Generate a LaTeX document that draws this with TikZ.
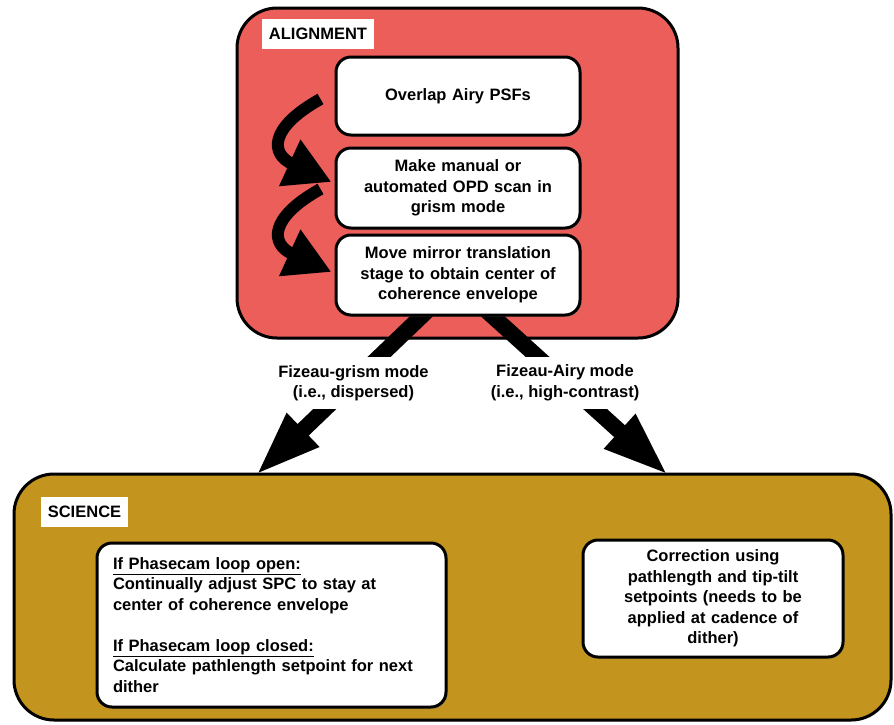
\documentclass[tikz,border=0pt]{standalone}
\usepackage{fontspec}
\setmainfont{Liberation Sans}
\usetikzlibrary{arrows.meta,shadows,calc}
\definecolor{alignred}{RGB}{236,94,89}
\definecolor{scigold}{RGB}{195,149,30}
\pgfdeclarelayer{containers}
\pgfdeclarelayer{arrowlayer}
\pgfsetlayers{containers,arrowlayer,main}
\begin{document}
\begin{tikzpicture}[x=1pt,y=-1pt,
  txt/.style={font=\fontsize{16.5}{20.5}\selectfont\bfseries},
  container/.style={draw=black, line width=3pt, rounded corners=40pt, inner sep=0pt,
    drop shadow={shadow xshift=1pt, shadow yshift=-1.5pt, opacity=0.3}},
  stepbox/.style={draw=black, fill=white, line width=3pt, rounded corners=15pt, txt,
    inner sep=0pt, drop shadow={shadow xshift=1.5pt, shadow yshift=-2pt, opacity=0.35}},
  tag/.style={fill=white, txt, inner sep=0pt},
  bigarrow/.style={line width=16pt, -{Triangle[length=66pt,width=42pt]}},
  curlarrow/.style={line width=12pt, -{Triangle[length=46pt,width=48pt]}},
  modelabel/.style={fill=white, txt, align=center, inner xsep=4pt, inner ysep=8pt}]

\useasboundingbox (0,0) rectangle (894,724);

% containers
\begin{pgfonlayer}{containers}
\node[container, fill=alignred, minimum width=441pt, minimum height=330pt] (align) at (457.5,173) {};
\node[container, fill=scigold, minimum width=877pt, minimum height=246pt] (science) at (452.5,597) {};
\end{pgfonlayer}

% tags
\node[tag, minimum width=112pt, minimum height=30pt] (aligntag) at (318,34) {ALIGNMENT};
\node[tag, minimum width=87pt, minimum height=30pt] (scitag) at (84.5,512) {SCIENCE};

% alignment steps
\node[stepbox, align=center, text width=224pt, minimum width=244pt, minimum height=78pt] (box1) at (458,96) {Overlap Airy PSFs};
\node[stepbox, align=center, text width=224pt, minimum width=244pt, minimum height=80pt] (box2) at (458,188) {Make manual or\\automated OPD scan in\\grism mode};
\node[stepbox, align=center, text width=224pt, minimum width=244pt, minimum height=80pt] (box3) at (458,275) {Move mirror translation\\stage to obtain center of\\coherence envelope};

% science boxes
\node[stepbox, align=left, text width=317pt, inner xsep=16pt, minimum height=164pt] (sci1) at (271.5,625)
  {\underline{If Phasecam loop open:}\\
   Continually adjust SPC to stay at\\
   center of coherence envelope\\[20.5pt]
   \underline{If Phasecam loop closed:}\\
   Calculate pathlength setpoint for next\\
   dither};
\node[stepbox, align=center, text width=240pt, minimum width=260pt, minimum height=117pt] (sci2) at (713,598.5)
  {Correction using\\pathlength and tip-tilt\\setpoints (needs to be\\applied at cadence of\\dither)};

% curl arrows
\draw[curlarrow] ($(box1.west)+(-14,3)$) .. controls ($(box1.west)+(-66,32)$) and ($(box1.west)+(-64,58)$) .. ($(box2.west)+(-3,-6)$);
\draw[curlarrow] ($(box2.west)+(-14,1)$) .. controls ($(box2.west)+(-66,30)$) and ($(box2.west)+(-64,56)$) .. ($(box3.west)+(-3,-3)$);

% mode arrows
\coordinate (gstart) at ($(box3.south)+(-17,-19)$);
\coordinate (astart) at ($(box3.south)+(14,-19)$);
\coordinate (gend) at ($(science.north west)+(243,3)$);
\coordinate (aend) at ($(science.north west)+(656,3)$);
\begin{pgfonlayer}{arrowlayer}
\draw[bigarrow] (gstart) -- (gend);
\draw[bigarrow] (astart) -- (aend);
\end{pgfonlayer}

\node[modelabel] (glabel) at (353.5,383) {Fizeau-grism mode\\(i.e., dispersed)};
\node[modelabel] (alabel) at (565,383) {Fizeau-Airy mode\\(i.e., high-contrast)};
\end{tikzpicture}
\end{document}
